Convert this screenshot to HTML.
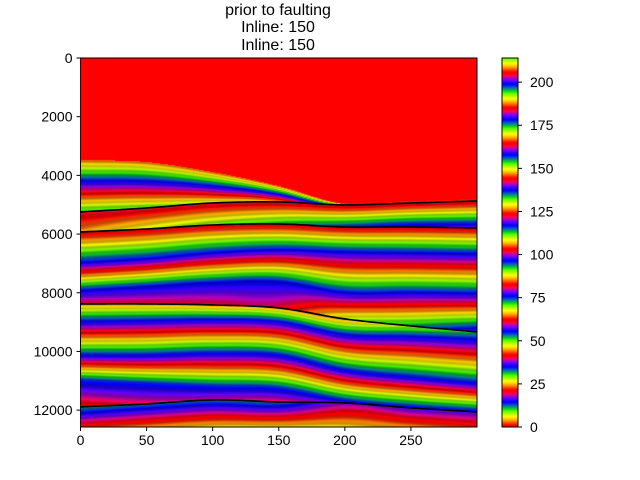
<!DOCTYPE html>
<html><head><meta charset="utf-8"><style>
body{margin:0;background:#fff;width:640px;height:480px;overflow:hidden;font-family:"Liberation Sans",sans-serif}
#wrap{position:relative;width:640px;height:480px}
canvas{position:absolute}
svg{position:absolute;left:0;top:0}
</style></head><body>
<div id="wrap">
<canvas id="plot" width="397" height="369" style="left:80px;top:58px"></canvas>
<canvas id="cbar" width="16" height="369" style="left:502px;top:58px"></canvas>
<svg id="svg" width="640" height="480">
<text x="278" y="15" font-size="16" text-anchor="middle">prior to faulting</text>
<text x="278" y="32" font-size="16" text-anchor="middle">Inline: 150</text>
<text x="278" y="50" font-size="16" text-anchor="middle">Inline: 150</text>
</svg>
</div>
<script>
const colX=[0,50,100,150,200,250,300];
const topD=[3475,3543,3884,4361,4974,4906,4838];
const h1D=[5247,5111,4940,4906,5008,4940,4872];
const h1Above=[31,30,28,25,10,5,5];
const h1Below=[40,40,40,40,40,40,40];
const h2D=[5928,5826,5690,5656,5758,5758,5792];
const h2Above=[45,48,50,52,55,57,58];
const h2Below=[61,61,61,61,61,61,61];
const m76D=[6984,6848,6644,6541,6610,6644,6678];
const m96D=[7904,7768,7632,7598,7972,7972,8006];
const h25D=[8381,8381,8415,8518,8892,9131,9335];
const h25Above=[102,102,102,102,110,114,119];
const h25Below=[106,106,106,106,106,110,113];
const m117D=[8994,8960,8926,8994,9437,9505,9608];
const m137D=[10119,10119,10051,10119,10630,10868,11073];
const m157D=[10971,11073,11175,11243,11652,11856,11993];
const h3D=[11890,11788,11652,11720,11754,11925,12061];
const h3Above=[165,163,162,163,160,158,158];
const h3Below=[175,176,176,176,181,180,180];
const bottomV=[186,188,190,190,190,188,186];
const xTicks=[0,50,100,150,200,250];
const yTicks=[0,2000,4000,6000,8000,10000,12000];
const cTicks=[0,25,50,75,100,125,150,175,200];
const X0=80.5,X1=477,Y0=58,Y1=427,XMAX=300,DMAX=12575,VMAX=214;
function sx(x){return X0+x/XMAX*(X1-X0);}
function sy(d){return Y0+d/DMAX*(Y1-Y0);}
function interp(arr,x){const n=colX.length;
 for(let i=0;i<n-1;i++){if(x<=colX[i+1]||i==n-2){
  const h=colX[i+1]-colX[i];const t=Math.max(0,Math.min(1,(x-colX[i])/h));
  const p0=arr[Math.max(0,i-1)],p1=arr[i],p2=arr[i+1],p3=arr[Math.min(n-1,i+2)];
  const m1=(p2-p0)/(i>0?2:1),m2=(p3-p1)/(i+2<n?2:1);
  const t2=t*t,t3=t2*t;
  return (2*t3-3*t2+1)*p1+(t3-2*t2+t)*m1+(-2*t3+3*t2)*p2+(t3-t2)*m2;}}
 return arr[n-1];}
function prism(v){const x=v/VMAX;const c=x*20.9;
let r=0.75*Math.sin((c+0.25)*Math.PI)+0.67,g=0.75*Math.sin((c-0.25)*Math.PI)+0.33,b=-1.1*Math.sin(c*Math.PI);
return [r,g,b].map(q=>Math.round(255*Math.max(0,Math.min(1,q))));}
const pc=document.getElementById('plot'),ctx=pc.getContext('2d');
const W=pc.width,H=pc.height,img=ctx.createImageData(W,H);
for(let px=0;px<W;px++){
 const x=(px+0.5)/W*XMAX;const I=a=>interp(a,x);
 const top=I(topD);
 let pts=[[top,3],[I(h1D),I(h1Above)],[I(h1D)+1,I(h1Below)],[I(h2D),I(h2Above)],[I(h2D)+1,I(h2Below)],
 [I(m76D),76],[I(m96D),96],[I(h25D),I(h25Above)],[I(h25D)+1,I(h25Below)],[I(m117D),117],[I(m137D),137],[I(m157D),157],
 [I(h3D),I(h3Above)],[I(h3D)+1,I(h3Below)],[DMAX,I(bottomV)]];
 for(let k=1;k<pts.length;k++){if(pts[k][0]<=pts[k-1][0])pts[k][0]=pts[k-1][0]+0.01;}
 for(let py=0;py<H;py++){
  const d=(py+0.5)/H*DMAX;let v=0,f=1;
  if(d>=top){
   for(let k=0;k<pts.length-1;k++){if(d<=pts[k+1][0]){const t=(d-pts[k][0])/(pts[k+1][0]-pts[k][0]);v=pts[k][1]+(pts[k+1][1]-pts[k][1])*t;break;}}
   f=0.87+0.1*Math.cos(2*Math.PI*v/2.5);
  }
  let c=prism(v).map(q=>q*f);
  const o=(py*W+px)*4;img.data[o]=c[0];img.data[o+1]=c[1];img.data[o+2]=c[2];img.data[o+3]=255;
 }
}
ctx.putImageData(img,0,0);
const cc=document.getElementById('cbar'),cx=cc.getContext('2d');
for(let py=0;py<cc.height;py++){const v=(cc.height-py-0.5)/cc.height*VMAX;const c=prism(v);cx.fillStyle=`rgb(${c[0]},${c[1]},${c[2]})`;cx.fillRect(0,py,16,1);}
const svg=document.getElementById('svg');const NS='http://www.w3.org/2000/svg';
function el(t,a,p){const e=document.createElementNS(NS,t);for(const k in a)e.setAttribute(k,a[k]);(p||svg).appendChild(e);return e;}
[h1D,h2D,h25D,h3D].forEach((arr,i)=>{
 const pts=[];for(let x=0;x<=XMAX;x+=3)pts.push(sx(x)+','+sy(interp(arr,x)));
 const l=el('polyline',{points:pts.join(' '),fill:'none',stroke:'#000','stroke-width':1.6});
 
 
});
const fr=el('rect',{x:X0,y:Y0,width:X1-X0,height:Y1-Y0,fill:'none',stroke:'#000','stroke-width':1});


const cf=el('rect',{x:502,y:58,width:16,height:369,fill:'none',stroke:'#000','stroke-width':1});


xTicks.forEach(t=>{const x=sx(t);el('line',{x1:x,x2:x,y1:Y1,y2:Y1+4,stroke:'#000'});
 const tx=el('text',{x:x,y:Y1+18,'font-size':14,'text-anchor':'middle'});tx.textContent=t;
 
 });
yTicks.forEach(t=>{const y=sy(t);el('line',{x1:X0-4,x2:X0,y1:y,y2:y,stroke:'#000'});
 const tx=el('text',{x:X0-8,y:y+5,'font-size':14,'text-anchor':'end'});tx.textContent=t;
 
 });
cTicks.forEach(t=>{const y=427-t/VMAX*369;el('line',{x1:518,x2:522,y1:y,y2:y,stroke:'#000'});
 const tx=el('text',{x:530,y:y+5,'font-size':14});tx.textContent=t;
 
 });
</script>
</body></html>
